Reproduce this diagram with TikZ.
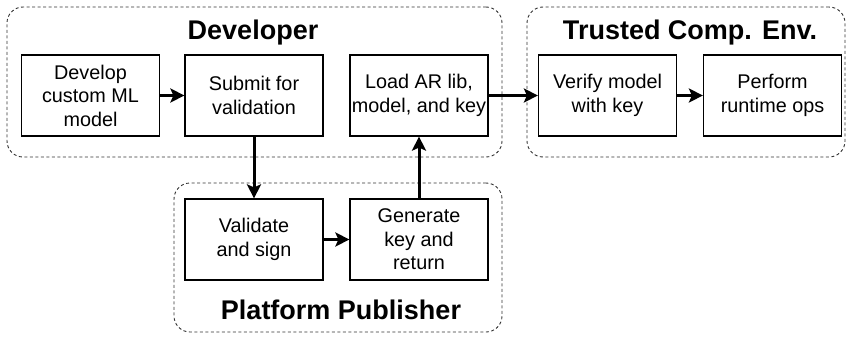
\documentclass[tikz,border=0pt]{standalone}
\usepackage{fontspec}
\setmainfont{Liberation Sans}
\usetikzlibrary{arrows.meta}
\tikzset{
  stepbox/.style={draw=black, line width=1.2pt, minimum width=138pt, minimum height=81pt,
    inner sep=0pt, align=center, font=\fontsize{19.8}{23.5}\selectfont},
  groupbox/.style={draw=black!80, line width=0.9pt, dash pattern=on 3pt off 2.5pt,
    rounded corners=16pt, inner sep=0pt},
  grouptitle/.style={font=\bfseries\fontsize{27}{30}\selectfont, inner sep=0pt},
  flow/.style={line width=3pt, -{Stealth[length=14pt, width=14pt, inset=3pt]}},
}
\begin{document}
\begin{tikzpicture}[x=1pt, y=-1pt]
  \useasboundingbox (0,0) rectangle (848,337);

  % groups
  \node[groupbox, minimum width=495pt, minimum height=150pt] (dev) at (254.5,82) {};
  \node[groupbox, minimum width=318pt, minimum height=150pt] (tce) at (686,82) {};
  \node[groupbox, minimum width=328pt, minimum height=149pt] (pub) at (338,257.5) {};

  \node[grouptitle] (devt) at (253,33) {Developer};
  \node[grouptitle] (tcet) at (690,33) {Trusted Comp. Env.};
  \node[grouptitle] (pubt) at (341,310) {Platform Publisher};

  % steps
  \node[stepbox] (develop) at (90.5,95.5) {Develop\\custom ML\\model};
  \node[stepbox] (submit) at (254,95.5) {Submit for\\validation};
  \node[stepbox] (load) at (419,95.5) {Load AR lib,\\model, and key};
  \node[stepbox] (verify) at (607.5,95.5) {Verify model\\with key};
  \node[stepbox] (perform) at (772.5,95.5) {Perform\\runtime ops};
  \node[stepbox] (validate) at (254,239.5) {Validate\\and sign};
  \node[stepbox] (generate) at (419,239.5) {Generate\\key and\\return};

  % flow
  \draw[flow] (develop) -- (submit);
  \draw[flow] (submit) -- (validate);
  \draw[flow] (validate) -- (generate);
  \draw[flow] (generate) -- (load);
  \draw[flow] (load) -- (verify);
  \draw[flow] (verify) -- (perform);
\end{tikzpicture}
\end{document}
